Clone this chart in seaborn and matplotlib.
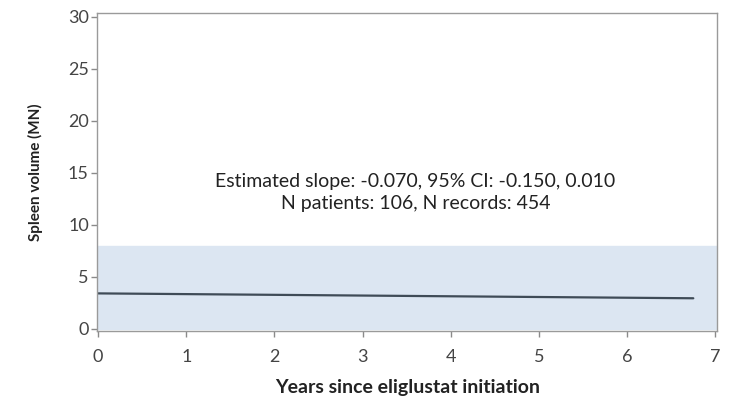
import matplotlib
matplotlib.use("Agg")
import matplotlib.pyplot as plt
import pandas as pd
import seaborn as sns

# fitted trend (years since initiation -> spleen volume, MN)
years = [0.0, 6.75]
spleen_volume = [3.40, 2.93]

# shaded reference band
band_low = 0
band_high = 8

x_ticks = [0, 1, 2, 3, 4, 5, 6, 7]
y_ticks = [0, 5, 10, 15, 20, 25, 30]

annotation = "Estimated slope: -0.070, 95% CI: -0.150, 0.010\nN patients: 106, N records: 454"

sns.set_theme(style="white")
plt.rcParams["font.family"] = ["Lato", "DejaVu Sans"]

fig = plt.figure(figsize=(7.31, 4.0), dpi=100)
ax = fig.add_axes([0.133, 0.173, 0.848, 0.795])

ax.axhspan(band_low, band_high, color="#dce6f2", zorder=0)

df = pd.DataFrame({"years": years, "volume": spleen_volume})
sns.lineplot(data=df, x="years", y="volume", ax=ax, color="#3f4b57", linewidth=1.6)

ax.text(3.6, 13.1, annotation, ha="center", va="center", fontsize=14,
        color="#222222", linespacing=1.35)

ax.set_xlim(-0.01, 7.02)
ax.set_ylim(-0.2, 30.4)
ax.set_xticks(x_ticks)
ax.set_yticks(y_ticks)
ax.set_xlabel("Years since eliglustat initiation", fontsize=14, fontweight="bold",
              color="#222222", labelpad=10)
ax.set_ylabel("Spleen volume (MN)", fontsize=11, fontweight="bold", color="#222222",
              labelpad=18)

for side in ["left", "right", "top", "bottom"]:
    ax.spines[side].set_color("#9a9a9a")
    ax.spines[side].set_linewidth(1.0)

ax.tick_params(axis="both", direction="out", length=4, width=1, color="#8a8a8a",
               labelsize=13, labelcolor="#444444", pad=2)
ax.tick_params(axis="x", bottom=True, pad=9)
ax.tick_params(axis="y", left=True)

plt.savefig("out.png", dpi=100)
